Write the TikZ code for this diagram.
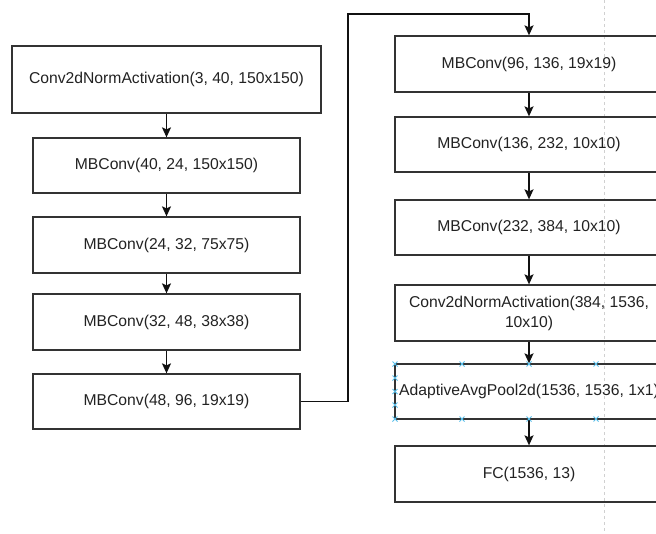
\documentclass[tikz,border=0pt]{standalone}
\usepackage{fontspec}
\setmainfont{Liberation Sans}
\usetikzlibrary{arrows.meta}
\definecolor{edge}{HTML}{333333}
\definecolor{link}{HTML}{111111}
\definecolor{txt}{HTML}{222222}
\definecolor{guide}{HTML}{D0D0D0}
\definecolor{handle}{HTML}{5BC0EB}
\tikzset{
  blk/.style={draw=edge, line width=1.3pt, rectangle, inner sep=0pt, align=center,
    text=txt, font=\fontsize{15.7}{20}\selectfont},
  arr/.style={draw=link, line width=1.4pt, -{Stealth[length=10pt,width=9pt,inset=2pt]}},
  hmark/.style={draw=handle, line width=0.9pt},
}
\begin{document}
\begin{tikzpicture}[x=1pt,y=-1pt]
\useasboundingbox (0,0) rectangle (656,533);
\clip (0,0) rectangle (656,533);
% guide line
\draw[guide, line width=1pt, dash pattern=on 3pt off 3pt] (604,0) -- (604,533);
% left column
\node[blk, minimum width=309pt, minimum height=67pt] (L1) at (166.5,79.5) {Conv2dNormActivation(3, 40, 150x150)};
\node[blk, minimum width=267pt, minimum height=55pt] (L2) at (166.5,165.5) {MBConv(40, 24, 150x150)};
\node[blk, minimum width=267pt, minimum height=56pt] (L3) at (166.5,245) {MBConv(24, 32, 75x75)};
\node[blk, minimum width=267pt, minimum height=56pt] (L4) at (166.5,322) {MBConv(32, 48, 38x38)};
\node[blk, minimum width=267pt, minimum height=55pt] (L5) at (166.5,401.5) {MBConv(48, 96, 19x19)};
% right column
\node[blk, minimum width=268pt, minimum height=56pt] (R1) at (529,64) {MBConv(96, 136, 19x19)};
\node[blk, minimum width=268pt, minimum height=55pt] (R2) at (529,144.5) {MBConv(136, 232, 10x10)};
\node[blk, minimum width=268pt, minimum height=55pt] (R3) at (529,227.5) {MBConv(232, 384, 10x10)};
\node[blk, minimum width=268pt, minimum height=56pt] (R4) at (529,313) {Conv2dNormActivation(384, 1536,\\10x10)};
\node[blk, minimum width=268pt, minimum height=55pt] (R5) at (529,391.5) {AdaptiveAvgPool2d(1536, 1536, 1x1)};
\node[blk, minimum width=268pt, minimum height=56pt] (R6) at (529,474) {FC(1536, 13)};
% connectors
\draw[arr] (L1) -- (L2);
\draw[arr] (L2) -- (L3);
\draw[arr] (L3) -- (L4);
\draw[arr] (L4) -- (L5);
\coordinate (turn) at (348,14);
\draw[arr] (L5.east) -| (turn) -| (R1.north);
\draw[arr] (R1) -- (R2);
\draw[arr] (R2) -- (R3);
\draw[arr] (R3) -- (R4);
\draw[arr] (R4) -- (R5);
\draw[arr] (R5) -- (R6);
% selection handles
\foreach \hx in {395,462,529,596} {
  \foreach \hy in {364,419} {
    \draw[hmark] (\hx-2.5,\hy-2.5) -- (\hx+2.5,\hy+2.5) (\hx-2.5,\hy+2.5) -- (\hx+2.5,\hy-2.5);
  }
}
\foreach \hy in {378,391.5,405} {
  \draw[hmark] (395-2.5,\hy-2.5) -- (395+2.5,\hy+2.5) (395-2.5,\hy+2.5) -- (395+2.5,\hy-2.5);
}
\end{tikzpicture}
\end{document}
